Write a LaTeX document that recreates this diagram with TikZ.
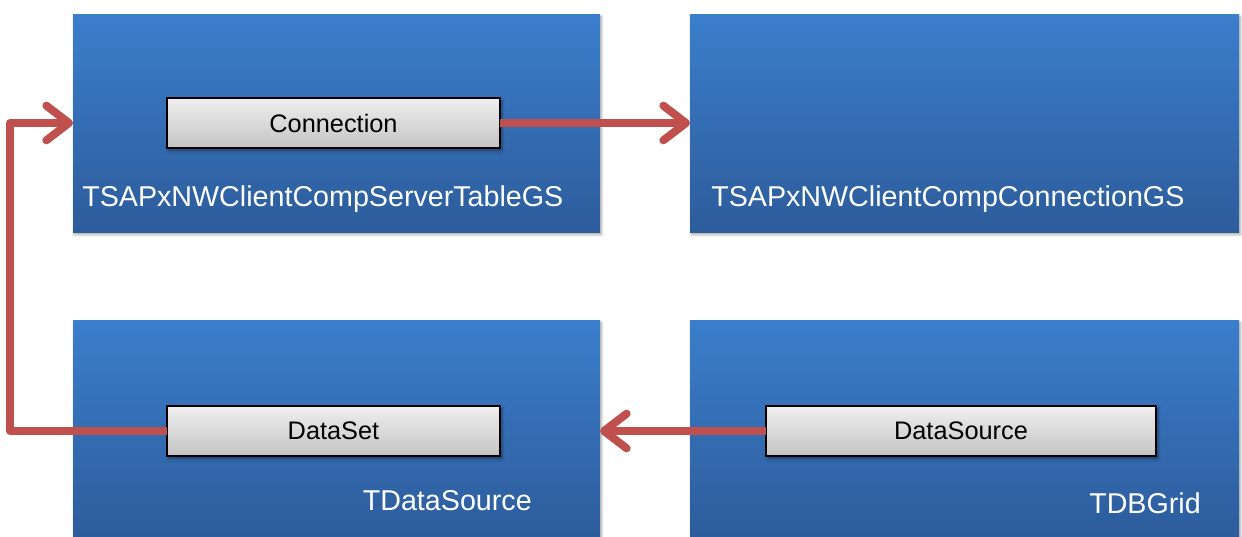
\documentclass[tikz,border=0pt]{standalone}
\usepackage{fontspec}
\setmainfont{Liberation Sans}
\usetikzlibrary{arrows.meta,shadows.blur}
\definecolor{boxtop}{HTML}{3B7ECC}
\definecolor{boxbot}{HTML}{2D5C9B}
\definecolor{innertop}{HTML}{EFEFEF}
\definecolor{innerbot}{HTML}{C4C4C4}
\definecolor{arr}{HTML}{C0504D}
\begin{document}
\begin{tikzpicture}[x=0.75pt,y=-0.75pt,
  bigbox/.style={rectangle, draw=none, top color=boxtop, bottom color=boxbot,
    inner sep=0pt, outer sep=0pt,
    blur shadow={shadow blur steps=6, shadow xshift=1pt, shadow yshift=-2pt, shadow opacity=35}},
  inbox/.style={rectangle, draw=black, line width=1.5pt, top color=innertop, bottom color=innerbot,
    inner sep=0pt, outer sep=0pt, font=\fontsize{19}{22}\selectfont,
    blur shadow={shadow blur steps=4, shadow xshift=1.5pt, shadow yshift=-2pt, shadow opacity=40}},
  lbl/.style={text=white, inner sep=0pt, font=\fontsize{21.5}{25}\selectfont},
  conn/.style={draw=arr, line width=6pt, line join=round,
    -{Straight Barb[length=17pt, width=26pt, round]}}
]
\useasboundingbox (0,0) rectangle (1242,536);
\clip (0,0) rectangle (1242,536);
% big boxes
\node[bigbox, minimum width=395.25pt, minimum height=163.5pt] (tl) at (336.5,123) {};
\node[bigbox, minimum width=411.75pt, minimum height=163.5pt] (tr) at (964.5,123) {};
\node[bigbox, minimum width=395.25pt, minimum height=163.5pt] (bl) at (336.5,429) {};
\node[bigbox, minimum width=411.75pt, minimum height=163.5pt] (br) at (964.5,429) {};
% labels
\node[lbl, anchor=west] (tltext) at (82,199) {TSAPxNWClientCompServerTableGS};
\node[lbl, anchor=west] (trtext) at (711,199) {TSAPxNWClientCompConnectionGS};
\node[lbl, anchor=east] (bltext) at (532,501) {TDataSource};
\node[lbl, anchor=east] (brtext) at (1201,503) {TDBGrid};
% inner boxes
\node[inbox, minimum width=249.75pt, minimum height=37.5pt] (conn) at (333.5,123) {Connection};
\node[inbox, minimum width=249.75pt, minimum height=37.5pt] (dset) at (333.5,431) {DataSet};
\node[inbox, minimum width=292.5pt, minimum height=37.5pt] (dsrc) at (961,431) {DataSource};
% connectors
\coordinate (turn) at (10,431);
\draw[conn] (conn.east) -- (tr.west);
\draw[conn] (dsrc.west) -- (dsrc.west -| bl.east);
\draw[conn] (dset.west) -- (turn) |- (tl.west);
\end{tikzpicture}
\end{document}
